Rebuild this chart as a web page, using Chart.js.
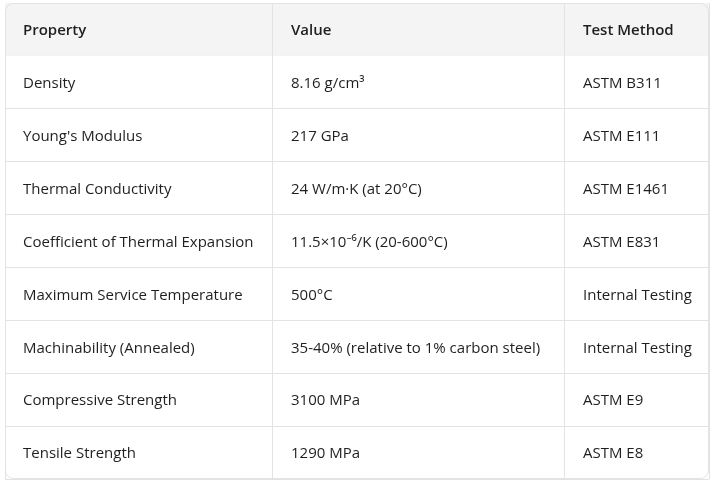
<!DOCTYPE html>
<html>
<head>
<meta charset="utf-8">
<script src="https://cdn.jsdelivr.net/npm/chart.js@4/dist/chart.umd.min.js"></script>
<style>
  html, body { margin: 0; padding: 0; background: #ffffff; }
  #wrap { width: 714px; height: 483px; }
</style>
</head>
<body>
<div id="wrap"><canvas id="table"></canvas></div>
<script>
// table contents
var headers = ['Property', 'Value', 'Test Method'];
var properties = ['Density', "Young's Modulus", 'Thermal Conductivity', 'Coefficient of Thermal Expansion',
    'Maximum Service Temperature', 'Machinability (Annealed)', 'Compressive Strength', 'Tensile Strength'];
var values = ['8.16 g/cm³', '217 GPa', '24 W/m·K (at 20°C)', '11.5×10⁻⁶/K (20-600°C)',
    '500°C', '35-40% (relative to 1% carbon steel)', '3100 MPa', '1290 MPa'];
var methods = ['ASTM B311', 'ASTM E111', 'ASTM E1461', 'ASTM E831',
    'Internal Testing', 'Internal Testing', 'ASTM E9', 'ASTM E8'];
var columnEdges = [0, 267, 559, 704]; // column boundaries along x

var rowLabels = ['header'].concat(properties);

var tablePlugin = {
    id: 'tableText',
    beforeDatasetsDraw: function(chart) {
        var ctx = chart.ctx, y = chart.scales.y;
        var top = chart.chartArea.top;
        var bottom = (y.getPixelForValue(0) + y.getPixelForValue(1)) / 2;
        ctx.save();
        ctx.fillStyle = '#f4f4f4';
        ctx.fillRect(chart.chartArea.left, top, chart.chartArea.right - chart.chartArea.left, bottom - top);
        ctx.restore();
    },
    afterDraw: function(chart) {
        var ctx = chart.ctx, x = chart.scales.x, y = chart.scales.y, a = chart.chartArea;
        ctx.save();
        // redraw verticals over header bg
        ctx.strokeStyle = '#e3e3e3';
        ctx.lineWidth = 1;
        [1, 2].forEach(function(c) {
            var px = Math.round(x.getPixelForValue(columnEdges[c])) + 0.5;
            ctx.beginPath(); ctx.moveTo(px, a.top); ctx.lineTo(px, a.bottom); ctx.stroke();
        });
        ctx.beginPath();
        ctx.roundRect(a.left + 0.5, a.top + 0.5, a.right - a.left - 1, a.bottom - a.top - 1, 8);
        ctx.stroke();
        ctx.fillStyle = '#1f1f1f';
        ctx.textBaseline = 'middle';
        for (var r = 0; r < rowLabels.length; r++) {
            var py = y.getPixelForValue(r) + 1.5;
            var cells = r === 0 ? headers : [properties[r - 1], values[r - 1], methods[r - 1]];
            ctx.font = (r === 0 ? '600 ' : '') + '15px "Open Sans", "Noto Sans", sans-serif';
            for (var c = 0; c < 3; c++) {
                ctx.fillText(cells[c], x.getPixelForValue(columnEdges[c]) + (c === 0 ? 18 : 19), py);
            }
        }
        ctx.restore();
    }
};

new Chart(document.getElementById('table'), {
    type: 'scatter',
    data: { labels: rowLabels, datasets: [{ data: [] }] },
    options: {
        responsive: true,
        maintainAspectRatio: false,
        animation: false,
        layout: { padding: { left: 5, right: 5, top: 3, bottom: 4 } },
        plugins: { legend: { display: false }, tooltip: { enabled: false } },
        scales: {
            x: {
                type: 'linear', min: columnEdges[0], max: columnEdges[3],
                afterBuildTicks: function(s) { s.ticks = columnEdges.map(function(v) { return { value: v }; }); },
                ticks: { display: false },
                grid: { color: '#e3e3e3', drawTicks: false },
                border: { display: false }
            },
            y: {
                type: 'category', labels: rowLabels, offset: true,
                ticks: { display: false },
                grid: { offset: true, color: '#e3e3e3', drawTicks: false },
                border: { display: false }
            }
        }
    },
    plugins: [tablePlugin]
});
</script>
</body>
</html>
